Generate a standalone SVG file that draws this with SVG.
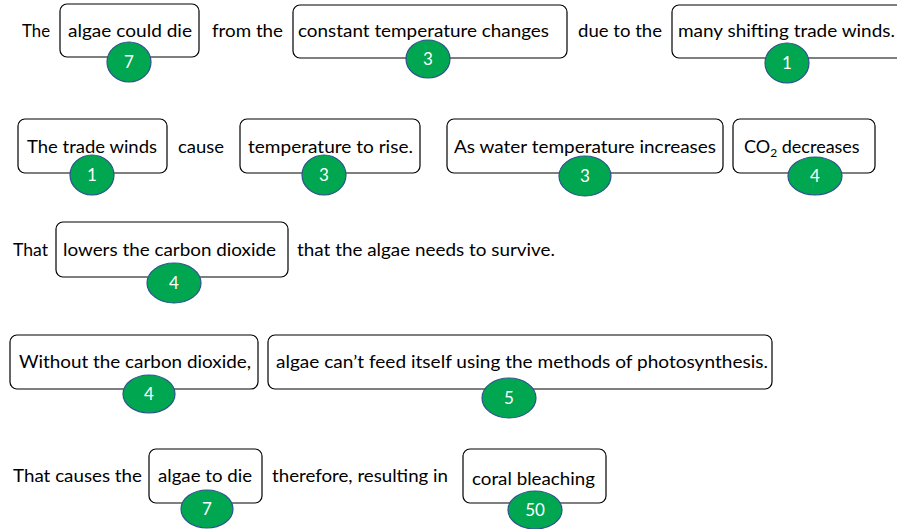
<svg xmlns="http://www.w3.org/2000/svg" width="897" height="529" viewBox="0 0 897 529">
  <style>
    text { font-family: Lato, "Open Sans", "Liberation Sans", sans-serif; font-size: 18px; fill: #000; }
    .box { fill: #fff; stroke: #000; stroke-width: 1.2; }
    .badge { fill: #00a650; stroke: #2f528f; stroke-width: 1.2; }
    .num { fill: #fff; font-size: 17px; text-anchor: middle; }
    .sub { font-size: 12px; }
  </style>

  <rect width="897" height="529" fill="#fff"/>

  <!-- Row 1 -->
  <g id="row1-words">
    <text x="22" y="37" textLength="28" lengthAdjust="spacingAndGlyphs">The</text>
    <text x="212" y="37" textLength="71" lengthAdjust="spacingAndGlyphs">from the</text>
    <text x="578" y="37" textLength="84" lengthAdjust="spacingAndGlyphs">due to the</text>
  </g>
  <g id="algae-could-die">
    <rect class="box" x="60" y="4" width="139" height="53" rx="7"/>
    <text x="68" y="37" textLength="124" lengthAdjust="spacingAndGlyphs">algae could die</text>
    <ellipse class="badge" cx="129" cy="62" rx="22" ry="20"/>
    <text class="num" x="129" y="68">7</text>
  </g>
  <g id="constant-temperature-changes">
    <rect class="box" x="293" y="5" width="274" height="53" rx="7"/>
    <text x="298" y="37" textLength="251" lengthAdjust="spacingAndGlyphs">constant temperature changes</text>
    <ellipse class="badge" cx="428" cy="59" rx="22" ry="19"/>
    <text class="num" x="428" y="65">3</text>
  </g>
  <g id="many-shifting-trade-winds">
    <rect class="box" x="672" y="5" width="232" height="53" rx="7"/>
    <text x="678" y="37" textLength="217" lengthAdjust="spacingAndGlyphs">many shifting trade winds.</text>
    <ellipse class="badge" cx="787" cy="63" rx="22" ry="20"/>
    <text class="num" x="787" y="69">1</text>
  </g>

  <!-- Row 2 -->
  <g id="row2-words">
    <text x="178" y="153" textLength="46" lengthAdjust="spacingAndGlyphs">cause</text>
  </g>
  <g id="the-trade-winds">
    <rect class="box" x="18" y="119" width="149" height="54" rx="7"/>
    <text x="27" y="153" textLength="130" lengthAdjust="spacingAndGlyphs">The trade winds</text>
    <ellipse class="badge" cx="92" cy="175" rx="22" ry="20"/>
    <text class="num" x="92" y="181">1</text>
  </g>
  <g id="temperature-to-rise">
    <rect class="box" x="240" y="119" width="180" height="54" rx="7"/>
    <text x="248" y="153" textLength="165" lengthAdjust="spacingAndGlyphs">temperature to rise.</text>
    <ellipse class="badge" cx="324" cy="175" rx="22" ry="20"/>
    <text class="num" x="324" y="181">3</text>
  </g>
  <g id="water-temperature-increases">
    <rect class="box" x="447" y="119" width="276" height="54" rx="7"/>
    <text x="454" y="153" textLength="262" lengthAdjust="spacingAndGlyphs">As water temperature increases</text>
    <ellipse class="badge" cx="585" cy="176" rx="26" ry="20"/>
    <text class="num" x="585" y="182">3</text>
  </g>
  <g id="co2-decreases">
    <rect class="box" x="733" y="119" width="142" height="54" rx="7"/>
    <text x="744" y="153">CO<tspan class="sub" dy="4">2</tspan><tspan dy="-4"> decreases</tspan></text>
    <ellipse class="badge" cx="815" cy="176" rx="27" ry="19"/>
    <text class="num" x="815" y="182">4</text>
  </g>

  <!-- Row 3 -->
  <g id="row3-words">
    <text x="13" y="256" textLength="35" lengthAdjust="spacingAndGlyphs">That</text>
    <text x="297" y="256" textLength="258" lengthAdjust="spacingAndGlyphs">that the algae needs to survive.</text>
  </g>
  <g id="lowers-carbon-dioxide">
    <rect class="box" x="56" y="222" width="232" height="55" rx="7"/>
    <text x="63" y="256" textLength="213" lengthAdjust="spacingAndGlyphs">lowers the carbon dioxide</text>
    <ellipse class="badge" cx="174" cy="283" rx="27" ry="20"/>
    <text class="num" x="174" y="289">4</text>
  </g>

  <!-- Row 4 -->
  <g id="without-carbon-dioxide">
    <rect class="box" x="10" y="335" width="248" height="54" rx="7"/>
    <text x="19" y="368" textLength="232" lengthAdjust="spacingAndGlyphs">Without the carbon dioxide,</text>
    <ellipse class="badge" cx="149" cy="394" rx="26" ry="19"/>
    <text class="num" x="149" y="400">4</text>
  </g>
  <g id="algae-cannot-feed">
    <rect class="box" x="268" y="335" width="504" height="54" rx="7"/>
    <text x="276" y="368" textLength="492" lengthAdjust="spacingAndGlyphs">algae can’t feed itself using the methods of photosynthesis.</text>
    <ellipse class="badge" cx="509" cy="398" rx="27" ry="20"/>
    <text class="num" x="509" y="404">5</text>
  </g>

  <!-- Row 5 -->
  <g id="row5-words">
    <text x="13" y="482" textLength="129" lengthAdjust="spacingAndGlyphs">That causes the</text>
    <text x="272" y="482" textLength="176" lengthAdjust="spacingAndGlyphs">therefore, resulting in</text>
  </g>
  <g id="algae-to-die">
    <rect class="box" x="149" y="449" width="113" height="54" rx="7"/>
    <text x="158" y="482" textLength="94" lengthAdjust="spacingAndGlyphs">algae to die</text>
    <ellipse class="badge" cx="207" cy="509" rx="26" ry="19"/>
    <text class="num" x="207" y="515">7</text>
  </g>
  <g id="coral-bleaching">
    <rect class="box" x="463" y="449" width="143" height="54" rx="7"/>
    <text x="472" y="485" textLength="123" lengthAdjust="spacingAndGlyphs">coral bleaching</text>
    <ellipse class="badge" cx="535" cy="510" rx="27" ry="19"/>
    <text class="num" x="535" y="516">50</text>
  </g>
</svg>
